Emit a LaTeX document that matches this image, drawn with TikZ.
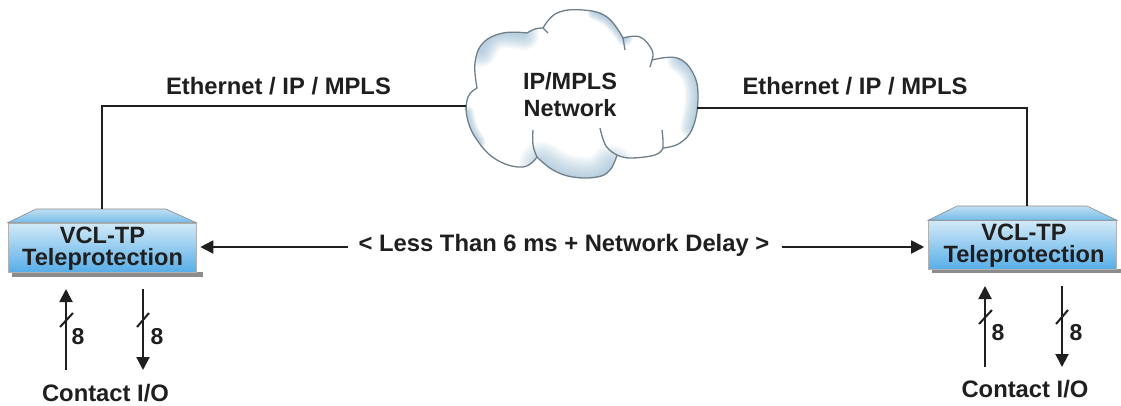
\documentclass[tikz,border=0pt]{standalone}
\usepackage{fontspec}
\setmainfont{Liberation Sans}
\usetikzlibrary{arrows.meta,calc}
\definecolor{ink}{HTML}{1F1F1F}
\definecolor{cloudedge}{HTML}{6E7F8A}
\definecolor{cloudblue}{HTML}{8FB6D0}
\definecolor{fronttop}{HTML}{D2E9F7}
\definecolor{frontbot}{HTML}{57AEE8}
\definecolor{tiptop}{HTML}{BFDFF2}
\definecolor{tipbot}{HTML}{74BCE9}
\newcommand{\softband}[3]{% max width, step count opacity, coordinates
  \foreach \k in {1,...,12}{%
    \draw[cloudblue,opacity=#2,line cap=round,line join=round,line width={#1*\k/12*1pt}]
      plot[smooth,tension=.7] coordinates{#3};}}
\newcommand{\cloudline}{%
  plot[smooth,tension=.7] coordinates{(477,88)(475,63)(483,43)(503,33)(527,33)}
  -- plot[smooth,tension=.7] coordinates{(527,33)(535,29)(543,28)}
  -- plot[smooth,tension=.7] coordinates{(543,28)(557,13)(583,10)(607,17)(623,38)}
  -- plot[smooth,tension=.7] coordinates{(623,38)(640,37)(652,50)(652,60)}
  -- plot[smooth,tension=.7] coordinates{(652,60)(677,58)(693,73)(698,97)(693,127)(680,143)(663,148)}
  -- plot[smooth,tension=.7] coordinates{(663,148)(655,155)(630,158)(617,155)}
  -- plot[smooth,tension=.7] coordinates{(617,155)(610,170)(597,177)(573,177)(553,170)(537,157)}
  -- plot[smooth,tension=.7] coordinates{(537,157)(523,167)(497,160)(477,140)(467,117)(468,97)(477,88)}
  -- cycle}
\tikzset{
  label text/.style={font=\bfseries\fontsize{23.8}{26}\selectfont,text=ink,inner sep=0pt},
  unit front/.style={draw=white!70!black,line width=.6pt,top color=fronttop,bottom color=frontbot,
    minimum width=188pt,minimum height=49pt,inner sep=0pt},
  unit text/.style={inner sep=0pt,align=center,text=ink,font=\bfseries\fontsize{23.6}{22}\selectfont},
  unit tip/.style={draw=white!55!black,line width=.6pt,top color=tiptop,bottom color=tipbot},
  unit shadow/.style={fill=black!45,draw=none},
  wire/.style={draw=ink,line width=1.8pt},
  delay/.style={draw=ink,line width=1.8pt,-{Triangle[length=13pt,width=13pt]},shorten >=4pt},
  contact/.style={draw=ink,line width=2pt,-{Triangle[length=13pt,width=13pt]}},
  busmark/.style={draw=ink,line width=2pt},
  count/.style={font=\bfseries\fontsize{23}{24}\selectfont,text=ink,inner sep=0pt},
  hook/.style={draw=cloudedge,line width=1.3pt}
}
\begin{document}
\begin{tikzpicture}[x=1pt,y=-1pt]
\useasboundingbox (0,0) rectangle (1121,405);
% cloud
\fill[white] \cloudline;
\begin{scope}
  \clip \cloudline;
  \softband{30}{.07}{(481,52)(490,38)(503,33)(524,35)}
  \softband{16}{.08}{(595,12)(610,20)(625,38)}
  \softband{26}{.07}{(680,60)(693,73)(698,97)(693,127)}
  \softband{46}{.075}{(542,165)(553,172)(573,179)(597,179)(612,168)}
  \softband{12}{.06}{(468,112)(472,128)(480,142)}
\end{scope}
\draw[hook] \cloudline;
\draw[hook] plot[smooth,tension=.7] coordinates{(543,28)(548,33)};
\draw[hook] plot[smooth,tension=.7] coordinates{(623,38)(625,50)};
\draw[hook] plot[smooth,tension=.7] coordinates{(652,60)(650,67)};
\draw[hook] plot[smooth,tension=.7] coordinates{(663,148)(663,140)(662,130)};
\draw[hook] plot[smooth,tension=.7] coordinates{(617,155)(606,146)(600,128)};
\draw[hook] plot[smooth,tension=.7] coordinates{(537,157)(533,145)(533,130)};
\node[font=\bfseries\fontsize{23.5}{27}\selectfont,text=ink,align=center,inner sep=0pt] (cloudtext) at (570,95) {IP/MPLS\\Network};
\coordinate (cloudL) at (466,106);
\coordinate (cloudR) at (697,108);

% left unit
\fill[unit shadow] (12,272) rectangle (203,277);
\node[unit front] (unitL) at (102,247.5) {};
\draw[unit tip] (unitL.north west) -- (36,209) -- (166,209) -- (unitL.north east) -- cycle;
\node[unit text] (textL) at (102.5,249) {VCL-TP\\Teleprotection};
\coordinate (topL) at (102,209);

% right unit
\fill[unit shadow] (932,269) rectangle (1121,273);
\node[unit front] (unitR) at (1022.5,245) {};
\draw[unit tip] (unitR.north west) -- (957,206) -- (1087,206) -- (unitR.north east) -- cycle;
\node[unit text] (textR) at (1024,245.5) {VCL-TP\\Teleprotection};
\coordinate (topR) at (1027,206);

% wan links
\draw[wire] (topL) |- (cloudL);
\draw[wire] (topR) |- (cloudR);
\node[label text] (ethL) at (278.5,86) {Ethernet / IP / MPLS};
\node[label text] (ethR) at (855,86) {Ethernet / IP / MPLS};

% delay
\node[label text] (delaytext) at (564,245) {< Less Than 6 ms + Network Delay >};
\coordinate (delayLend) at (348,247);
\coordinate (delayRend) at (782,247);
\draw[delay] (delayLend) -- (unitL.east |- delayLend);
\draw[delay] (delayRend) -- (unitR.west |- delayRend);

% left io
\coordinate (aL1) at (66,370); \coordinate (bL1) at (66,289);
\coordinate (aL2) at (143,289); \coordinate (bL2) at (143,370);
\draw[contact] (aL1) -- (bL1);
\draw[contact] (aL2) -- (bL2);
\draw[busmark] (60,327) -- (73,313);
\draw[busmark] (137,327) -- (149,313);
\node[count] (nL1) at (78,337) {8};
\node[count] (nL2) at (157,337) {8};
\node[label text] (ioL) at (105.5,393) {Contact I/O};

% right io
\coordinate (aR1) at (985,367); \coordinate (bR1) at (985,286);
\coordinate (aR2) at (1062,286); \coordinate (bR2) at (1062,367);
\draw[contact] (aR1) -- (bR1);
\draw[contact] (aR2) -- (bR2);
\draw[busmark] (979,324) -- (992,310);
\draw[busmark] (1056,324) -- (1068,310);
\node[count] (nR1) at (998,333) {8};
\node[count] (nR2) at (1076,333) {8};
\node[label text] (ioR) at (1025,389) {Contact I/O};
\end{tikzpicture}
\end{document}
